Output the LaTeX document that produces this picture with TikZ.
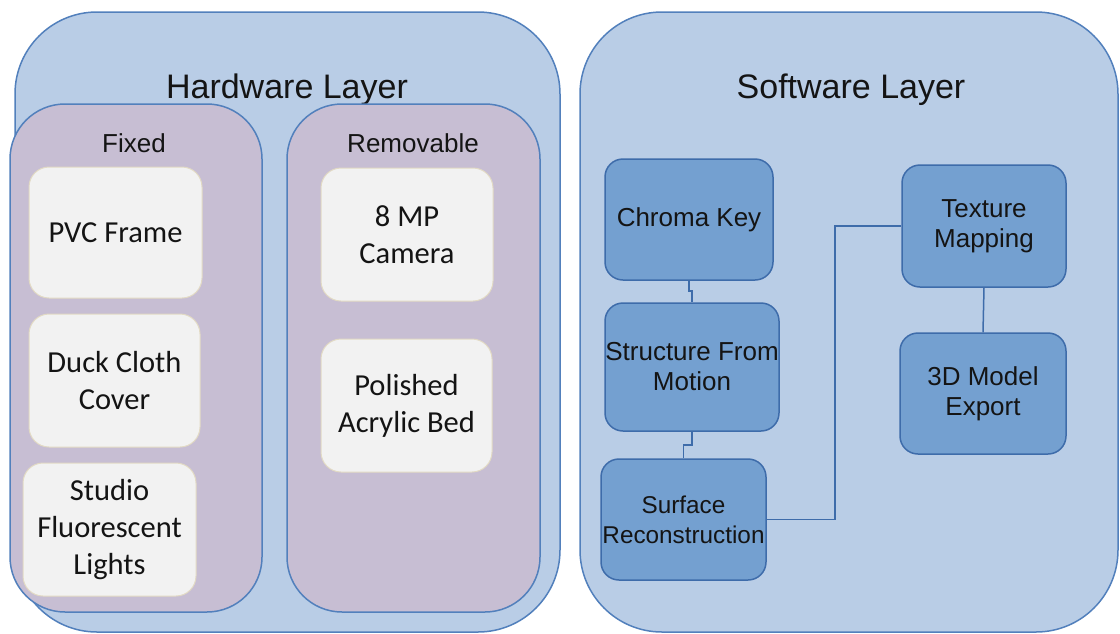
\documentclass[tikz,border=0pt]{standalone}
\usepackage{fontspec}
\setmainfont{Liberation Sans}
\newfontfamily\bodyfont{Carlito}
\definecolor{layerfill}{RGB}{185,205,230}
\definecolor{layerline}{RGB}{82,128,188}
\definecolor{groupfill}{RGB}{199,190,211}
\definecolor{itemfill}{RGB}{242,242,242}
\definecolor{itemline}{RGB}{226,218,196}
\definecolor{stagefill}{RGB}{116,160,208}
\definecolor{stageline}{RGB}{62,108,170}
\definecolor{ink}{RGB}{20,20,20}
\begin{document}
\begin{tikzpicture}[x=1pt,y=-1pt,
  layer/.style={rectangle, fill=layerfill, draw=layerline, line width=1.5pt,
    rounded corners=82pt, inner sep=0pt},
  group/.style={rectangle, fill=groupfill, draw=layerline, line width=1.5pt,
    rounded corners=55pt, inner sep=0pt},
  item/.style={rectangle, fill=itemfill, draw=itemline, line width=1pt,
    rounded corners=20pt, inner sep=0pt, align=center, text=ink,
    font=\bodyfont\fontsize{30.5}{37}\selectfont},
  stage/.style={rectangle, fill=stagefill, draw=stageline, line width=1.5pt,
    rounded corners=18pt, inner sep=0pt, align=center, text=ink,
    font=\fontsize{26}{30}\selectfont},
  title/.style={text=ink, font=\fontsize{34}{40}\selectfont},
  subtitle/.style={text=ink, font=\fontsize{26}{30}\selectfont},
  link/.style={draw=stageline, line width=1.5pt}
]
\useasboundingbox (0,0) rectangle (1120,633);

% Hardware layer
\node[layer, minimum width=545pt, minimum height=620pt] (hw) at (287.5,322) {};
\node[title] (hwt) at (287,90) {Hardware Layer};
\node[group, minimum width=252pt, minimum height=508pt] (fixed) at (136,358) {};
\node[group, minimum width=253pt, minimum height=508pt] (removable) at (413.5,358) {};
\node[subtitle] (fixedt) at (134,143) {Fixed};
\node[subtitle] (removablet) at (413,143) {Removable};

\node[item, minimum width=173pt, minimum height=131pt] (pvc) at (115.5,232.5) {PVC Frame};
\node[item, minimum width=171pt, minimum height=133pt] (duck) at (114.5,380.5) {Duck Cloth\\Cover};
\node[item, minimum width=173pt, minimum height=133pt] (lights) at (109.5,529.5) {Studio\\Fluorescent\\Lights};
\node[item, minimum width=172pt, minimum height=133pt] (camera) at (407,234.5) {8 MP\\Camera};
\node[item, minimum width=171pt, minimum height=133pt] (bed) at (406.5,405.5) {Polished\\Acrylic Bed};

% Software layer
\node[layer, minimum width=538pt, minimum height=620pt] (sw) at (849,322) {};
\node[title] (swt) at (851,90) {Software Layer};

\node[stage, minimum width=168pt, minimum height=121pt] (ck) at (689,219.5) {Chroma Key};
\node[stage, minimum width=174pt, minimum height=128pt] (sfm) at (692,367) {Structure From\\Motion};
\node[stage, minimum width=165pt, minimum height=121pt,
  font=\fontsize{24.3}{30}\selectfont] (sr) at (683.5,519.5) {Surface\\Reconstruction};
\node[stage, minimum width=164pt, minimum height=122pt] (tm) at (984,226) {Texture\\Mapping};
\node[stage, minimum width=166pt, minimum height=121pt] (me) at (983,393.5) {3D Model\\Export};

\draw[link] (ck.south) -- ++(0,10) -| (sfm.north);
\draw[link] (sfm.south) -- ++(0,13) -| (sr.north);
\draw[link] (sr.east) -- ++(68,0) |- (tm.west);
\draw[link] (tm.south) -- (me.north);
\end{tikzpicture}
\end{document}
